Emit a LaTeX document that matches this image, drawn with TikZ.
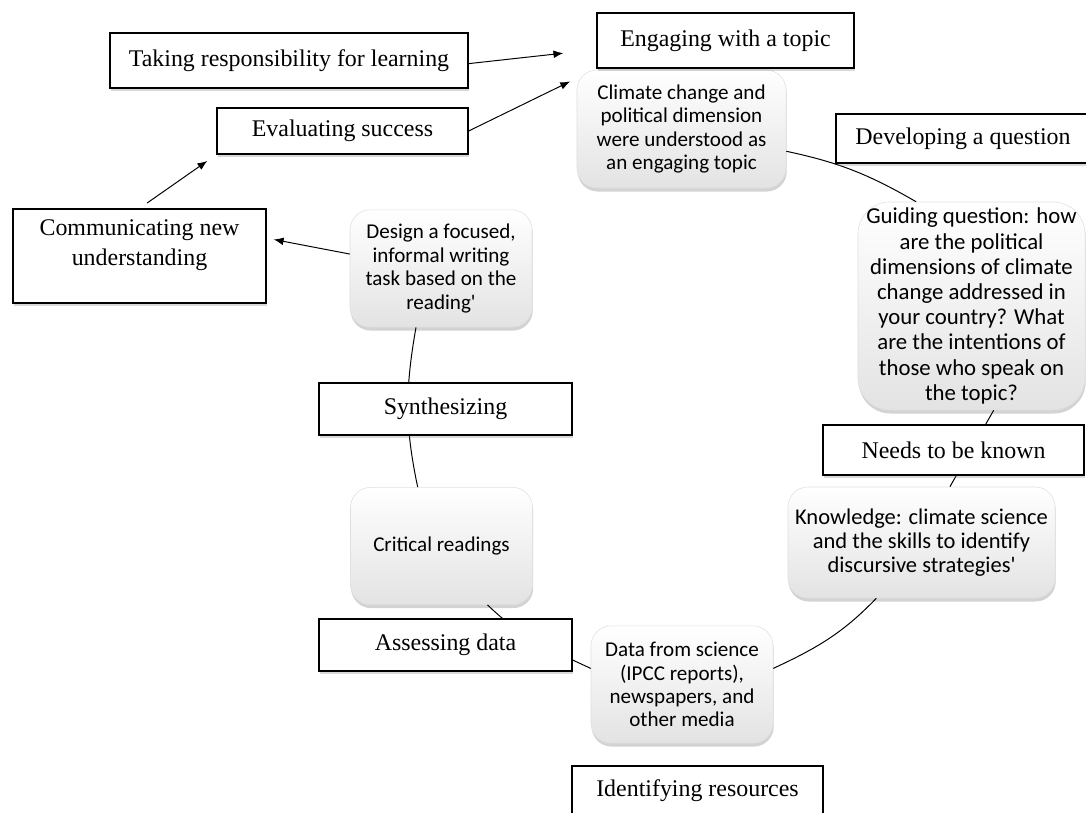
\documentclass[tikz,border=0pt]{standalone}
\usepackage{fontspec}
\setmainfont{Liberation Serif}
\setsansfont{Carlito}
\usetikzlibrary{arrows.meta,shadows}

\begin{document}
\begin{tikzpicture}[x=0.025cm,y=0.025cm,>={Latex[length=7pt,width=5.5pt]},
    lbl/.style={draw,line width=0.9pt,fill=white,inner sep=0pt,font=\fontsize{17}{21.3}\selectfont,
      drop shadow={shadow xshift=1pt,shadow yshift=-2pt,opacity=0.3}},
    stp/.style={draw=black!12,rounded corners=0.5cm,align=center,inner sep=0pt,
      top color=white,middle color=white,bottom color=black!11,
      font=\sffamily\fontsize{15}{16.6}\selectfont,
      minimum width=4.55cm,minimum height=2.93cm,
      drop shadow={shadow xshift=0.5pt,shadow yshift=-2.5pt,opacity=0.35}},
    cyc/.style={line width=0.7pt}]
  \useasboundingbox (0,0) rectangle (1086,-813);
  % the cycle
  \node[stp,minimum width=5.225cm,minimum height=2.95cm] (clim) at (681.5,-129)
    {Climate change and\\political dimension\\were understood as\\an engaging topic};
  \node[stp,rounded corners=0.8cm,minimum width=5.675cm,minimum height=5.2cm,
    font=\sffamily\fontsize{16.2}{17.9}\selectfont] (guid) at (971.5,-306)
    {Guiding question: how\\are the political\\dimensions of climate\\change addressed in\\your country? What\\are the intentions of\\those who speak on\\the topic?};
  \node[stp,minimum width=6.675cm,minimum height=2.775cm,
    font=\sffamily\fontsize{16}{17.2}\selectfont] (know) at (921.5,-542.5)
    {Knowledge: climate science\\and the skills to identify\\discursive strategies\textquotesingle};
  \node[stp] (data) at (682,-684.5) {Data from science\\(IPCC reports),\\newspapers, and\\other media};
  \node[stp] (crit) at (441.5,-546) {Critical readings};
  \node[stp] (des) at (441,-268.5) {Design a focused,\\informal writing\\task based on the\\reading\textquotesingle};
  \draw[cyc] (clim.-12) to[out=-12,in=150] (guid.118);
  \draw[cyc] (guid.-78) -- (know.63);
  \draw[cyc] (know.-129) to[out=226,in=25] (data.10);
  \draw[cyc] (data.170) to[out=155,in=-44] (crit.-52);
  \draw[cyc] (crit.112) to[out=102,in=-100] (des.-113);
  % stage labels
  \node[lbl,minimum width=8.95cm,minimum height=1.375cm] (take) at (289,-60.5) {Taking responsibility for learning};
  \node[lbl,minimum width=6.425cm,minimum height=1.375cm] (engage) at (725.5,-40.5) {Engaging with a topic};
  \node[lbl,minimum width=6.275cm,minimum height=1.15cm] (eval) at (342.5,-131) {Evaluating success};
  \node[lbl,minimum width=6.35cm,minimum height=1.225cm] (devq) at (963,-138.5) {Developing a question};
  \node[lbl,minimum width=6.325cm,minimum height=2.35cm] (comm) at (139.5,-256)
    {\parbox[c][1.8cm][t]{6cm}{\centering Communicating new\\understanding}};
  \node[lbl,minimum width=6.325cm,minimum height=1.3cm] (synth) at (445.5,-409) {Synthesizing};
  \node[lbl,minimum width=6.525cm,minimum height=1.25cm] (needs) at (953.5,-450) {Needs to be known};
  \node[lbl,minimum width=6.325cm,minimum height=1.3cm] (assess) at (445.5,-645) {Assessing data};
  \node[lbl,minimum width=6.275cm,minimum height=1.25cm] (ident) at (697.5,-791) {Identifying resources};
  \draw[->,cyc,shorten >=0.83cm] (take.-1) -- (engage.184);
  \draw[->,cyc,shorten >=0.73cm] (eval.east) -- (engage.south west);
  \draw[->,cyc,shorten <=0.23cm,shorten >=0.275cm] (comm.north) -- (eval.south west);
  \draw[->,cyc,shorten >=0.18cm] (des.171) -- (comm.8);
\end{tikzpicture}
\end{document}
